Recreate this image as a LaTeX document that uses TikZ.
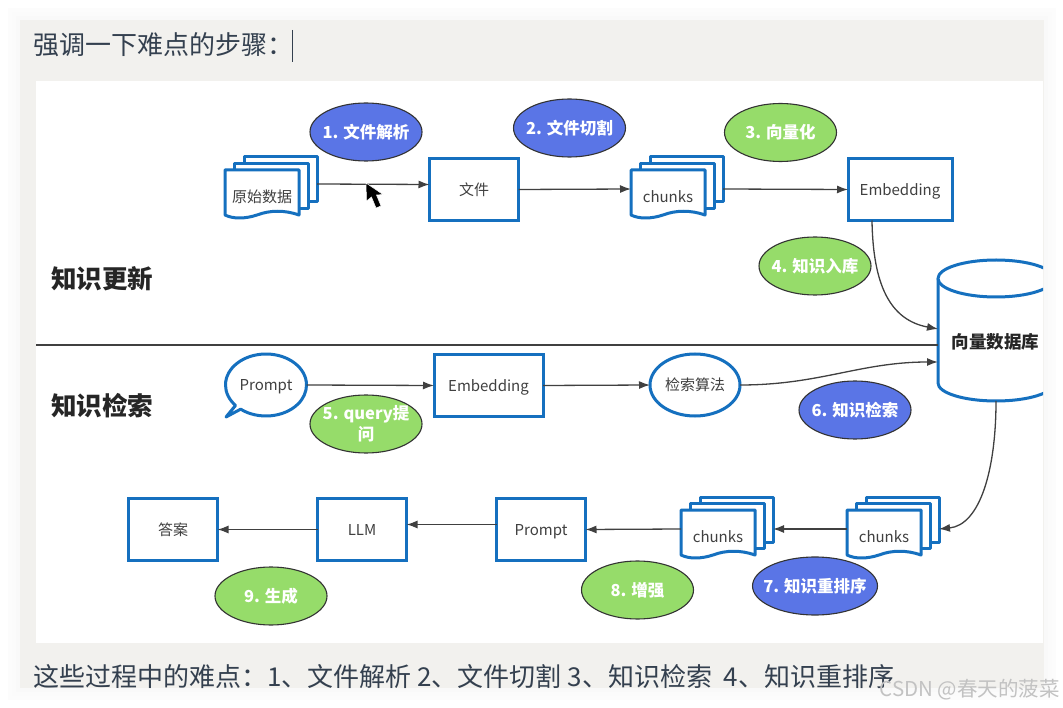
\documentclass[tikz,border=0pt]{standalone}
\usepackage{fontspec}
\setmainfont{Noto Sans CJK SC}
\usetikzlibrary{shapes.geometric, shapes.callouts, positioning, arrows.meta}

\definecolor{panelgray}{HTML}{F2F1EE}
\definecolor{boxblue}{HTML}{1570BF}
\definecolor{stepblue}{HTML}{5A75E6}
\definecolor{stepgreen}{HTML}{96DC6A}
\definecolor{linegray}{HTML}{404040}
\definecolor{inktext}{HTML}{34404F}

\begin{document}
\begin{tikzpicture}[
    x=1pt, y=-1pt,
    boxnode/.style={
        rectangle,
        draw=boxblue,
        line width=3pt,
        fill=white,
        minimum width=89pt,
        minimum height=62pt,
        outer sep=0pt,
        text=black!75,
        text height=15pt,
        text depth=3pt,
        font=\fontsize{15}{18}\selectfont
    },
    roundnode/.style={
        boxnode,
        ellipse,
        inner sep=0pt,
        minimum width=90pt,
        minimum height=62pt
    },
    stepnode/.style={
        ellipse,
        draw=black!80,
        line width=1.1pt,
        inner xsep=-10pt,
        inner ysep=0pt,
        minimum width=112pt,
        minimum height=58pt,
        align=center,
        text=white,
        font=\fontsize{16.5}{21}\selectfont\bfseries
    },
    stepb/.style={stepnode, fill=stepblue},
    stepg/.style={stepnode, fill=stepgreen},
    stackarea/.style={
        rectangle,
        minimum width=92pt,
        minimum height=64pt,
        inner sep=0pt,
        outer sep=0pt
    },
    stackpage/.style={
        draw=boxblue,
        line width=3pt,
        fill=white,
        line join=round
    },
    flow/.style={
        -{Latex[length=11pt, width=8pt]},
        draw=linegray,
        line width=1.3pt
    },
    zonetext/.style={
        font=\fontsize{25.5}{30}\selectfont\bfseries,
        text=black!85,
        anchor=west
    },
    notetext/.style={
        font=\fontsize{26}{31}\selectfont,
        text=inktext,
        anchor=west,
        inner sep=0pt
    }
]

    \useasboundingbox (0,0) rectangle (1063,708);

    % Panel with its soft edge
    \foreach \d/\c in {12/1, 8/1.5, 4/2.5} {
        \fill[black!\c] (20-\d,20-\d) rectangle (1044+\d,688+\d);
    }
    \fill[panelgray] (20,20) rectangle (1044,688);
    \fill[white] (36,81) rectangle (1043,643);

    % Lines of text
    \begin{scope}
        \clip (20,20) rectangle (1044,688);
        \node[notetext] (title) at (33,45) {强调一下难点的步骤\char"FF1A\relax};
        \node[notetext] (note) at (33,677) {这些过程中的难点\char"FF1A\relax 1、文件解析 2、文件切割 3、知识检索 \ 4、知识重排序};
    \end{scope}
    \coordinate (caret_top) at (292,30);
    \coordinate (caret_bot) at (292,62);
    \draw[inktext, line width=0.8pt] (caret_top) -- (caret_bot);

    % Zones
    \node[zonetext, inner sep=0pt] (zone_up) at (51,279) {知识更新};
    \node[zonetext, inner sep=0pt] (zone_search) at (51,406) {知识检索};

    % Vector store
    \node[stackarea, minimum width=116pt, minimum height=141pt] (db) at (996,330.5) {};
    \coordinate (db_top) at (996,278.5);
    \begin{scope}
        \clip (36,81) rectangle (1043,643);
        \draw[stackpage] (938,278.5) -- (938,383) .. controls (938,393) and (964,401) .. (996,401)
            .. controls (1028,401) and (1054,393) .. (1054,383) -- (1054,278.5);
        \draw[stackpage] (db_top) ellipse [x radius=58pt, y radius=18.5pt];
    \end{scope}
    \node[font=\fontsize{17.5}{21}\selectfont\bfseries, text=black!85, inner sep=0pt] (db_text) at (995.5,342) {向量数据库};

    % Document stacks
    \foreach \name/\x/\y/\txt in {raw/225/157/原始数据, chunks_a/631/157/chunks, chunks_b/681/497/chunks, chunks_c/847/497/chunks} {
        \draw[stackpage] (\x+19,\y) rectangle (\x+92,\y+45);
        \draw[stackpage] (\x+9.5,\y+6.5) rectangle (\x+83,\y+51.5);
        \draw[stackpage] (\x,\y+13) -- (\x+74,\y+13) -- (\x+74,\y+58)
            .. controls (\x+60,\y+53) and (\x+45,\y+53) .. (\x+32,\y+58)
            .. controls (\x+20,\y+62) and (\x+8,\y+62) .. (\x,\y+58) -- cycle;
        \node[stackarea] (\name) at (\x+46,\y+32) {};
        \node[text=black!75, font=\fontsize{15}{18}\selectfont, inner sep=0pt] (\name_text) at (\x+37,\y+39.5) {\txt};
    }

    % Upper row
    \node[boxnode] (file) at (474,189.5) {文件};
    \node[boxnode, minimum width=104pt] (emb_up) at (900,189.5) {Embedding};

    % Middle row
    \node[ellipse callout, draw=boxblue, line width=3pt, line join=round, fill=white, inner sep=0pt, outer sep=0pt,
        minimum width=81pt, minimum height=62pt, callout absolute pointer={(226,417)},
        callout pointer arc=10, text=black!75, text height=15pt, text depth=3pt,
        font=\fontsize{15}{18}\selectfont] (ask) at (266,385) {Prompt};
    \node[boxnode, minimum width=109pt] (emb_q) at (488.5,385.5) {Embedding};
    \node[roundnode] (algo) at (695,385) {检索算法};

    % Lower row
    \node[boxnode] (answer) at (173,529.5) {答案};
    \node[boxnode, right=100pt of answer] (llm) {LLM};
    \node[boxnode, right=90pt of llm] (prompt_b) {Prompt};

    % Steps
    \node[stepb] (s1) at (366,132) {1. 文件解析};
    \node[stepb] (s2) at (569.5,128) {2. 文件切割};
    \node[stepg] (s3) at (780.5,132.5) {3. 向量化};
    \node[stepg] (s4) at (815,266) {4. 知识入库};
    \node[stepg] (s5) at (366,424) {5. query提\\问};
    \node[stepb] (s6) at (855,410) {6. 知识检索};
    \node[stepb, minimum width=125pt] (s7) at (815,586) {7. 知识重排序};
    \node[stepg] (s8) at (637.5,590) {8. 增强};
    \node[stepg] (s9) at (271,596) {9. 生成};

    % Connectors
    \coordinate (rule_start) at (36,345);
    \draw[linegray, line width=1.1pt] (rule_start) -- (rule_start -| db.west);
    \draw[flow] ([yshift=5pt]raw.east) -- ([yshift=5pt]file.west);
    \draw[flow] (file.east) -- (chunks_a.west);
    \draw[flow] (chunks_a.east) -- (emb_up.west);
    \draw[flow] ([xshift=-28pt]emb_up.south) .. controls (873,285) and (890,320) .. ([yshift=1.5pt]db.west);
    \draw[flow] (ask.east) -- (emb_q.west);
    \draw[flow] (emb_q.east) -- (algo.west);
    \draw[flow] (algo.east) .. controls (820,385) and (860,362) .. ([yshift=-31.5pt]db.west);
    \draw[flow] (db.south) .. controls (996,470) and (980,525) .. (chunks_c.east);
    \draw[flow] (chunks_c.west) -- (chunks_b.east);
    \draw[flow] (chunks_b.west) -- (prompt_b.east);
    \draw[flow] ([yshift=5pt]prompt_b.west) -- ([yshift=5pt]llm.east);
    \draw[flow] (llm.west) -- (answer.east);

    % Mouse pointer
    \fill[black, draw=white, line width=0.5pt] (366,183) -- (366.5,201) -- (371.5,197) -- (376,208)
        -- (381,206) -- (376.5,195) -- (383,194.5) -- cycle;

    % Watermark
    \node[font=\fontsize{20.5}{24}\selectfont, text=black!24, inner sep=0pt, anchor=east] (mark) at (1060,690) {CSDN @春天的菠菜};

\end{tikzpicture}
\end{document}
